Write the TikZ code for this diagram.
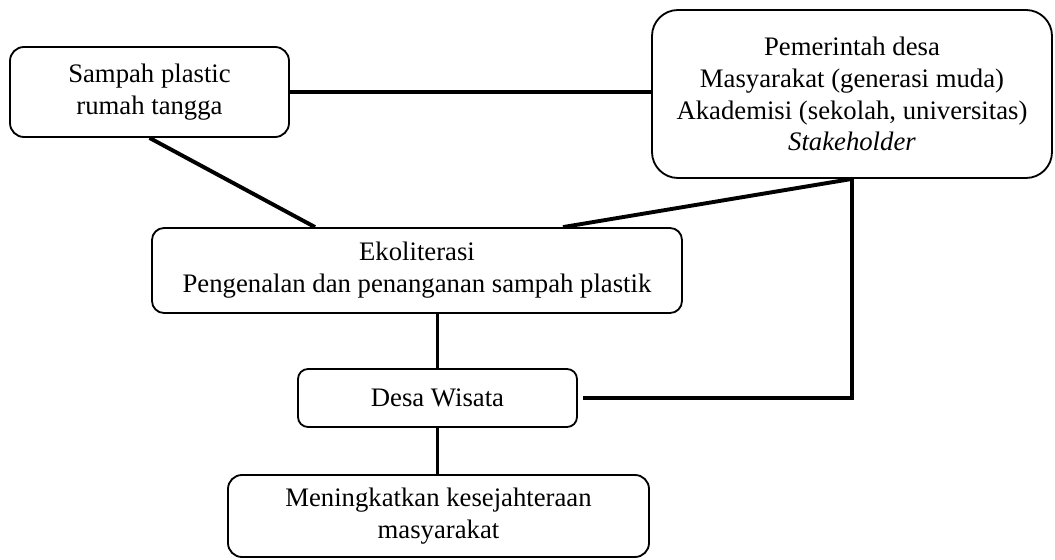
\documentclass[tikz,border=0pt]{standalone}
\usepackage{fontspec}
\setmainfont{Liberation Serif}
\begin{document}
\begin{tikzpicture}[scale=1,
    box/.style={draw, line width=1.3pt, align=center, inner sep=0pt,
        font=\fontsize{19}{22.6}\selectfont},
    link/.style={line width=2.8pt}]
            \useasboundingbox (0,0) rectangle (26.375,14);

            %boxes
            \node[box, rounded corners=0.35cm, minimum width=6.975cm, minimum height=2.25cm] (sampah) at (3.7375,11.7) {Sampah plastic\\rumah tangga};

            \node[box, rounded corners=0.65cm, minimum width=10.0cm, minimum height=4.2cm] (pihak) at (21.3,11.65) {Pemerintah desa\\Masyarakat (generasi muda)\\Akademisi (sekolah, universitas)\\\textit{Stakeholder}};

            \node[box, rounded corners=0.3cm, minimum width=13.25cm, minimum height=2.125cm] (eko) at (10.425,7.2375) {Ekoliterasi\\Pengenalan dan penanganan sampah plastik};

            \node[box, rounded corners=0.25cm, minimum width=6.975cm, minimum height=1.45cm] (desa) at (10.9375,4.05) {Desa Wisata};

            \node[box, rounded corners=0.35cm, minimum width=10.525cm, minimum height=2.05cm] (sejahtera) at (10.9625,1.1) {Meningkatkan kesejahteraan\\masyarakat};

            %links
            \draw[link] (sampah.east) -- (sampah.east -| pihak.west);

            \draw[link] (sampah.south) -- ([xshift=-2.55cm]eko.north);

            \draw[link] (pihak.south) -- ([xshift=3.65cm]eko.north);

            \draw[link] (pihak.south) |- ([xshift=0.12cm]desa.east);

            \draw[link] (desa.north) -- (desa.north |- eko.south);

            \draw[link] (desa.south) -- (desa.south |- sejahtera.north);
        \end{tikzpicture}
\end{document}
